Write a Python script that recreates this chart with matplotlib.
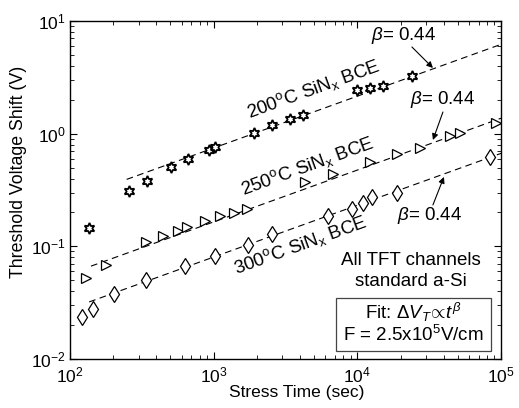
import numpy as np
import matplotlib
matplotlib.use("Agg")
import matplotlib.pyplot as plt
from matplotlib.patches import Rectangle

plt.rcParams['font.family'] = ['Liberation Sans', 'DejaVu Sans']
plt.rcParams['mathtext.fontset'] = 'custom'
plt.rcParams['mathtext.rm'] = 'Liberation Sans'
plt.rcParams['mathtext.it'] = 'Liberation Sans:italic'
plt.rcParams['mathtext.bf'] = 'Liberation Sans:bold'
plt.rcParams['mathtext.sf'] = 'Liberation Sans'

# ---- data ----
t_200 = [136, 257, 343, 505, 662, 927, 1021, 1906, 2546, 3397, 4182, 9935, 12240, 15070, 23990]
v_200 = [0.146, 0.310, 0.380, 0.506, 0.596, 0.717, 0.762, 1.014, 1.195, 1.349, 1.465, 2.44, 2.54, 2.65, 3.25]

t_250 = [129, 178, 338, 444, 565, 652, 870, 1106, 1385, 1705, 4318, 6763, 12240, 18870, 27290, 44100, 51760, 92200]
v_250 = [0.0525, 0.0684, 0.109, 0.124, 0.137, 0.149, 0.168, 0.186, 0.198, 0.215, 0.373, 0.439, 0.561, 0.661, 0.747, 0.954, 1.014, 1.245]

t_300 = [121, 145, 202, 338, 631, 1021, 1733, 2546, 6245, 9170, 10940, 12620, 18870, 83700]
v_300 = [0.0236, 0.0279, 0.0379, 0.0504, 0.0670, 0.0822, 0.1029, 0.1288, 0.186, 0.215, 0.243, 0.274, 0.298, 0.621]

# power-law fit lines dV = A * t^b (as drawn in the picture)
fit_A = [0.0311, 0.00687, 0.00335]
fit_b = [0.46, 0.46, 0.46]
fit_tstart = [248, 140, 136]
fit_tend = 1e5

labels = ['200$^\\mathrm{o}$C SiN$_\\mathrm{x}$ BCE',
          '250$^\\mathrm{o}$C SiN$_\\mathrm{x}$ BCE',
          '300$^\\mathrm{o}$C SiN$_\\mathrm{x}$ BCE']
label_pos = [(1761, 1.378), (1600, 0.2858), (1430, 0.0569)]

beta_txt = '$\\beta$= 0.44'
beta_text_pos = [(21090, 7.36), (39430, 1.99), (32000, 0.186)]
beta_arrow_tail = [(23990, 5.88), (39430, 1.557), (33590, 0.233)]
beta_arrow_head = [(33590, 3.83), (33590, 0.879), (40060, 0.413)]

FS = 13.5

fig = plt.figure(figsize=(5.19, 4.08), dpi=100)
ax = fig.add_axes([70/519, 1-359/408, 431/519, 338/408])
ax.set_xscale('log')
ax.set_yscale('log')
ax.set_xlim(1e2, 1e5)
ax.set_ylim(1e-2, 1e1)

dash = (0, (6, 4))
for A, b, ts in zip(fit_A, fit_b, fit_tstart):
    t = np.logspace(np.log10(ts), np.log10(fit_tend), 100)
    ax.plot(t, A * t**b, color='black', lw=0.8, linestyle=dash, zorder=2)

ax.plot(t_200, v_200, linestyle='none', marker=(6, 1, 0), markersize=8,
        mfc='white', mec='black', mew=1.3, zorder=3)
ax.plot(t_250, v_250, linestyle='none', marker='>', markersize=7.5,
        mfc='white', mec='black', mew=0.9, zorder=3)
ax.plot(t_300, v_300, linestyle='none', marker='d', markersize=8.5,
        mfc='white', mec='black', mew=0.9, zorder=3)

# curve labels
for lab, (lx, ly) in zip(labels, label_pos):
    ax.text(lx, ly, lab, rotation=20, ha='left', va='baseline', fontsize=FS,
            rotation_mode='anchor')

# beta annotations
ap = dict(arrowstyle='-|>', color='black', lw=0.8, mutation_scale=9, shrinkA=0, shrinkB=0)
for (tx, ty), tail, head in zip(beta_text_pos, beta_arrow_tail, beta_arrow_head):
    ax.text(tx, ty, beta_txt, fontsize=FS, ha='center', va='center')
    ax.annotate('', xy=head, xytext=tail, arrowprops=ap)

ax.text(0.791, 0.290, 'All TFT channels', transform=ax.transAxes,
        ha='center', va='center', fontsize=FS)
ax.text(0.791, 0.228, 'standard a-Si', transform=ax.transAxes,
        ha='center', va='center', fontsize=FS)
ax.add_patch(Rectangle((0.617, 0.0237), 0.360, 0.157, transform=ax.transAxes,
                       fc='white', ec='#444444', lw=0.9, zorder=4))
ax.text(0.797, 0.139, 'Fit: $\\Delta V_T\\!\\propto\\! \\mathbf{\\mathit{t}}^{\\,\\beta}$',
        transform=ax.transAxes, ha='center', va='center', fontsize=FS, zorder=5)
ax.text(0.797, 0.071, 'F = 2.5x10$^5$V/cm',
        transform=ax.transAxes, ha='center', va='center', fontsize=FS, zorder=5)

ax.set_xlabel('Stress Time (sec)', fontsize=12.5)
ax.set_ylabel('Threshold Voltage Shift (V)', fontsize=12.8)
ax.xaxis.set_label_coords((297-70)/431, -(385-359)/338)
ax.yaxis.set_label_coords(-(70-27)/431, (359-172)/338)
ax.tick_params(which='both', direction='in', top=True, right=True, labelsize=12.5)
ax.tick_params(which='major', length=5, width=0.8)
ax.tick_params(axis='x', which='major', pad=4.5)
ax.tick_params(axis='y', which='major', pad=3)
ax.tick_params(which='minor', length=3, width=0.6)
for s in ax.spines.values():
    s.set_linewidth(1.0)

fig.savefig('out.png', dpi=100)
